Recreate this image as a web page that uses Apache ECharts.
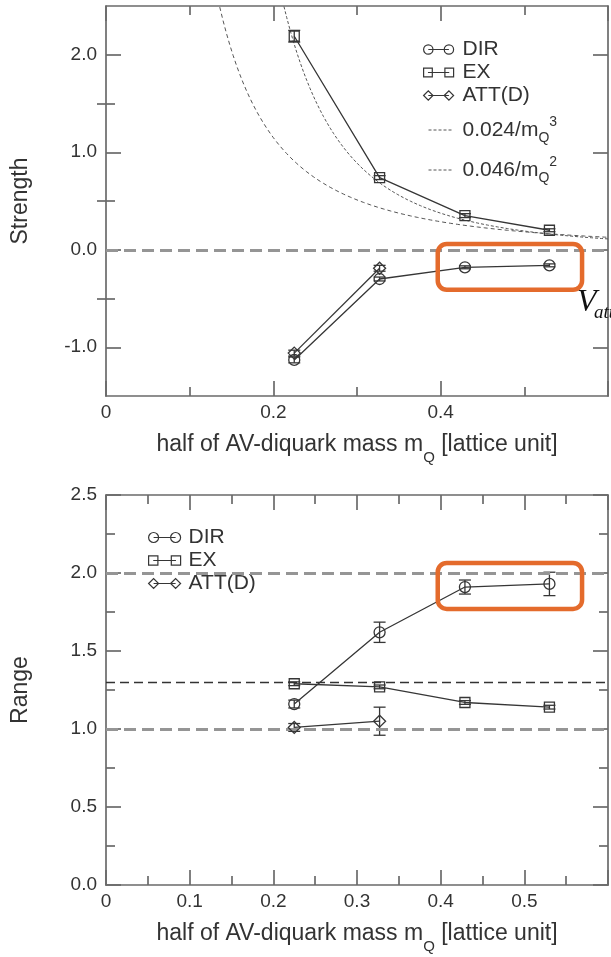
<!DOCTYPE html>
<html>
<head>
<meta charset="utf-8">
<script src="https://cdn.jsdelivr.net/npm/echarts@6/dist/echarts.min.js"></script>
<style>
html,body{margin:0;padding:0;background:#fff;}
#c{width:611px;height:957px;}
</style>
</head>
<body>
<div id="c"></div>
<script>
// ---------- data ----------
const mQ = [0.225, 0.327, 0.429, 0.530];

const strengthDIR = [-1.13, -0.30, -0.18, -0.16];
const strengthDIRErr = [0.03, 0.02, 0.015, 0.015];
const strengthEX = [2.19, 0.74, 0.35, 0.20];
const strengthEXErr = [0.06, 0.02, 0.02, 0.015];
const strengthATT = [-1.06, -0.19];
const strengthATTErr = [0.03, 0.03];

const rangeDIR = [1.16, 1.62, 1.91, 1.93];
const rangeDIRErr = [0.025, 0.065, 0.045, 0.075];
const rangeEX = [1.29, 1.27, 1.17, 1.14];
const rangeEXErr = [0.012, 0.012, 0.012, 0.012];
const rangeATT = [1.01, 1.05];
const rangeATTErr = [0.025, 0.09];

const fitCoeff = [0.024, 0.046];
const fitPower = [3, 2];
const fitLabels = ['0.024/m{sub|Q}{sup|3}', '0.046/m{sub|Q}{sup|2}'];

const strengthRefLines = [0.0];
const rangeRefLines = [2.0, 1.3, 1.0];

const strengthYLabels = [-1, 0, 1, 2];
const strengthYMinor = [-0.5, 0.5, 1.5];

const boxStrength = [[0.3965, 0.06], [0.569, -0.41]];
const boxRange = [[0.3965, 2.064], [0.569, 1.77]];

// ---------- styles ----------
const FONT = 'Liberation Sans, Arial, Helvetica, sans-serif';
const SERIF = 'Liberation Serif, Times New Roman, serif';
const TXT = '#333333';
const FRAME = '#6a6a6a';
const LINE = '#363636';

const pathDIR = 'path://M0,5 A5,5 0 1,1 10,5 A5,5 0 1,1 0,5 Z M5,5 L27,5 M22,5 A5,5 0 1,1 32,5 A5,5 0 1,1 22,5 Z';
const pathEX = 'path://M0.5,0.5 H9.5 V9.5 H0.5 Z M5,5 H27 M22.5,0.5 H31.5 V9.5 H22.5 Z';
const pathATT = 'path://M0,5 L5,0 L10,5 L5,10 Z M5,5 H27 M22,5 L27,0 L32,5 L27,10 Z';
const pathFit = 'path://M0,0 M0,5 L24,5 M0,10';

function pairs(xs, ys) { return ys.map((y, i) => [xs[i], y]); }

function curve(c, p) {
  const out = [];
  for (let x = 0.12; x <= 0.6001; x += 0.004) out.push([x, c / Math.pow(x, p)]);
  return out;
}

function errSeries(xs, ys, es, xi, yi) {
  return {
    type: 'custom', xAxisIndex: xi, yAxisIndex: yi, silent: true, z: 4,
    data: ys.map((y, i) => [xs[i], y - es[i], y + es[i]]),
    encode: { x: 0, y: [1, 2] },
    renderItem: function (params, api) {
      const x = api.value(0);
      const lo = api.coord([x, api.value(1)]);
      const hi = api.coord([x, api.value(2)]);
      const w = 6;
      const st = { stroke: LINE, lineWidth: 1.3 };
      return {
        type: 'group', children: [
          { type: 'line', shape: { x1: lo[0], y1: lo[1], x2: hi[0], y2: hi[1] }, style: st },
          { type: 'line', shape: { x1: lo[0] - w, y1: lo[1], x2: lo[0] + w, y2: lo[1] }, style: st },
          { type: 'line', shape: { x1: hi[0] - w, y1: hi[1], x2: hi[0] + w, y2: hi[1] }, style: st }
        ]
      };
    }
  };
}

function lineSeries(name, data, symbol, size, xi, yi) {
  return {
    type: 'line', name: name, data: data, xAxisIndex: xi, yAxisIndex: yi,
    symbol: symbol, symbolSize: size, showAllSymbol: true, z: 5,
    lineStyle: { color: LINE, width: 1.3 },
    itemStyle: { color: 'rgba(0,0,0,0)', borderColor: LINE, borderWidth: 1.3 },
    emphasis: { disabled: true }, silent: true
  };
}

function refLineSeries(values, styles, xi, yi) {
  return {
    type: 'line', data: [], xAxisIndex: xi, yAxisIndex: yi, silent: true, z: 1,
    markLine: {
      silent: true, symbol: 'none', label: { show: false }, animation: false,
      data: values.map((v, i) => ({ yAxis: v, lineStyle: styles[i] }))
    }
  };
}

const greyDash = { color: '#959595', width: 2.8, type: [12, 6] };
const darkDash = { color: '#333333', width: 1.3, type: [9, 5] };

const labelStyle = { fontFamily: FONT, fontSize: 19, color: TXT };

const nameStyle = {
  fontFamily: FONT, fontSize: 23, color: TXT, lineHeight: 40,
  rich: { sub: { fontFamily: FONT, fontSize: 15, color: TXT, verticalAlign: 'bottom', lineHeight: 10 } }
};

function xAxisDef(grid, pos, interval, showLabels, name) {
  return {
    type: 'value', gridIndex: grid, position: pos, min: 0, max: 0.6, interval: interval,
    axisLine: { show: true, onZero: false, lineStyle: { color: FRAME, width: 1.7 } },
    axisTick: { show: true, inside: true, length: 15, lineStyle: { color: FRAME, width: 1.7 } },
    minorTick: { show: true, splitNumber: 2, length: 9, lineStyle: { color: FRAME, width: 1.7 } },
    splitLine: { show: false },
    axisLabel: Object.assign({ show: showLabels, margin: 7, showMaxLabel: false,
      formatter: v => (v === 0 ? '0' : v.toFixed(1)) }, labelStyle),
    name: name || '', nameLocation: 'middle', nameGap: 29,
    nameTextStyle: nameStyle
  };
}

const xName = 'half of AV-diquark mass m{sub|Q} [lattice unit]';

const option = {
  animation: false,
  backgroundColor: '#fff',
  grid: [
    { left: 106, top: 6, width: 502, height: 390 },
    { left: 106, top: 495, width: 502, height: 390 }
  ],
  xAxis: [
    xAxisDef(0, 'bottom', 0.2, true, xName),
    xAxisDef(0, 'top', 0.2, false),
    xAxisDef(1, 'bottom', 0.1, true, xName),
    xAxisDef(1, 'top', 0.1, false)
  ],
  yAxis: [
    {
      type: 'value', gridIndex: 0, position: 'left', min: -1.5, max: 2.5, interval: 0.5,
      axisLine: { show: true, onZero: false, lineStyle: { color: FRAME, width: 1.7 } },
      axisTick: { show: true, inside: true, length: 15, customValues: strengthYLabels, lineStyle: { color: FRAME, width: 1.7 } },
      axisLabel: Object.assign({ margin: 9, customValues: strengthYLabels, formatter: v => v.toFixed(1) }, labelStyle),
      splitLine: { show: false },
      name: 'Strength', nameLocation: 'middle', nameRotate: 90, nameGap: 74,
      nameTextStyle: { fontFamily: FONT, fontSize: 23, color: TXT }
    },
    {
      type: 'value', gridIndex: 0, position: 'left', min: -1.5, max: 2.5, interval: 0.5,
      axisLine: { show: false },
      axisTick: { show: true, inside: true, length: 9, customValues: strengthYMinor, lineStyle: { color: FRAME, width: 1.7 } },
      axisLabel: { show: false }, splitLine: { show: false }
    },
    {
      type: 'value', gridIndex: 0, position: 'right', min: -1.5, max: 2.5, interval: 0.5,
      axisLine: { show: true, onZero: false, lineStyle: { color: FRAME, width: 1.7 } },
      axisTick: { show: true, inside: true, length: 15, customValues: strengthYLabels, lineStyle: { color: FRAME, width: 1.7 } },
      axisLabel: { show: false }, splitLine: { show: false }
    },
    {
      type: 'value', gridIndex: 0, position: 'right', min: -1.5, max: 2.5, interval: 0.5,
      axisLine: { show: false },
      axisTick: { show: true, inside: true, length: 9, customValues: strengthYMinor, lineStyle: { color: FRAME, width: 1.7 } },
      axisLabel: { show: false }, splitLine: { show: false }
    },
    {
      type: 'value', gridIndex: 1, position: 'left', min: 0, max: 2.5, interval: 0.5,
      axisLine: { show: true, onZero: false, lineStyle: { color: FRAME, width: 1.7 } },
      axisTick: { show: true, inside: true, length: 15, lineStyle: { color: FRAME, width: 1.7 } },
      minorTick: { show: true, splitNumber: 2, length: 9, lineStyle: { color: FRAME, width: 1.7 } },
      axisLabel: Object.assign({ margin: 9, formatter: v => v.toFixed(1) }, labelStyle),
      splitLine: { show: false },
      name: 'Range', nameLocation: 'middle', nameRotate: 90, nameGap: 74,
      nameTextStyle: { fontFamily: FONT, fontSize: 23, color: TXT }
    },
    {
      type: 'value', gridIndex: 1, position: 'right', min: 0, max: 2.5, interval: 0.5,
      axisLine: { show: true, onZero: false, lineStyle: { color: FRAME, width: 1.7 } },
      axisTick: { show: true, inside: true, length: 15, lineStyle: { color: FRAME, width: 1.7 } },
      minorTick: { show: true, splitNumber: 2, length: 9, lineStyle: { color: FRAME, width: 1.7 } },
      axisLabel: { show: false }, splitLine: { show: false }
    }
  ],
  legend: [
    {
      orient: 'vertical', left: 423, top: 39, padding: 0, itemGap: 2,
      itemWidth: 30, itemHeight: 10, selectedMode: false,
      itemStyle: { color: 'rgba(0,0,0,0)', borderColor: LINE, borderWidth: 1.2 },
      textStyle: { fontFamily: FONT, fontSize: 21, color: TXT, padding: [0, 0, 0, 4] },
      data: [{ name: 'DIR', icon: pathDIR }, { name: 'EX', icon: pathEX }, { name: 'ATT(D)', icon: pathATT }]
    },
    {
      orient: 'vertical', left: 428, top: 115, padding: 0, itemGap: 10,
      itemWidth: 24, itemHeight: 10, selectedMode: false,
      itemStyle: { color: 'rgba(0,0,0,0)', borderColor: '#555', borderWidth: 1, borderType: [3, 2] },
      textStyle: {
        fontFamily: FONT, fontSize: 21, color: TXT, lineHeight: 30, padding: [0, 0, 0, 5],
        rich: {
          sub: { fontFamily: FONT, fontSize: 14, color: TXT, verticalAlign: 'bottom', lineHeight: 8 },
          sup: { fontFamily: FONT, fontSize: 14, color: TXT, verticalAlign: 'top', lineHeight: 8 }
        }
      },
      data: fitLabels.map(n => ({ name: n, icon: pathFit }))
    },
    {
      orient: 'vertical', left: 146, top: 527, padding: [0, 4, 0, 2], itemGap: 2,
      itemWidth: 32, itemHeight: 10, selectedMode: false, backgroundColor: '#fff',
      itemStyle: { color: 'rgba(0,0,0,0)', borderColor: LINE, borderWidth: 1.2 },
      textStyle: { fontFamily: FONT, fontSize: 21, color: TXT, padding: [0, 0, 0, 3] },
      data: [{ name: 'DIR', icon: pathDIR }, { name: 'EX', icon: pathEX }, { name: 'ATT(D)', icon: pathATT }]
    }
  ],
  series: [
    refLineSeries(strengthRefLines, [greyDash], 0, 0),
    refLineSeries(rangeRefLines, [greyDash, darkDash, greyDash], 2, 4),

    {
      type: 'line', name: fitLabels[0], data: curve(fitCoeff[0], fitPower[0]), xAxisIndex: 0, yAxisIndex: 0,
      showSymbol: false, symbol: 'none', silent: true, z: 3, clip: true,
      lineStyle: { color: '#555', width: 1, type: [3, 2] }, itemStyle: { color: '#555' }
    },
    {
      type: 'line', name: fitLabels[1], data: curve(fitCoeff[1], fitPower[1]), xAxisIndex: 0, yAxisIndex: 0,
      showSymbol: false, symbol: 'none', silent: true, z: 3, clip: true,
      lineStyle: { color: '#555', width: 1, type: [4, 3] }, itemStyle: { color: '#555' }
    },

    lineSeries('DIR', pairs(mQ, strengthDIR), 'circle', 11, 0, 0),
    lineSeries('EX', pairs(mQ, strengthEX), 'rect', 10, 0, 0),
    lineSeries('ATT(D)', pairs(mQ, strengthATT), 'diamond', 12, 0, 0),
    errSeries(mQ, strengthDIR, strengthDIRErr, 0, 0),
    errSeries(mQ, strengthEX, strengthEXErr, 0, 0),
    errSeries(mQ, strengthATT, strengthATTErr, 0, 0),

    lineSeries('DIR', pairs(mQ, rangeDIR), 'circle', 11, 2, 4),
    lineSeries('EX', pairs(mQ, rangeEX), 'rect', 10, 2, 4),
    lineSeries('ATT(D)', pairs(mQ, rangeATT), 'diamond', 12, 2, 4),
    errSeries(mQ, rangeDIR, rangeDIRErr, 2, 4),
    errSeries(mQ, rangeEX, rangeEXErr, 2, 4),
    errSeries(mQ, rangeATT, rangeATTErr, 2, 4)
  ]
};

const chart = echarts.init(document.getElementById('c'), null, { renderer: 'canvas' });
chart.setOption(option);

function boxGraphic(box, gridIndex) {
  const p1 = chart.convertToPixel({ gridIndex: gridIndex }, box[0]);
  const p2 = chart.convertToPixel({ gridIndex: gridIndex }, box[1]);
  return {
    type: 'rect', z: 100, silent: true,
    shape: { x: Math.min(p1[0], p2[0]), y: Math.min(p1[1], p2[1]),
             width: Math.abs(p2[0] - p1[0]), height: Math.abs(p2[1] - p1[1]), r: 9 },
    style: { fill: 'none', stroke: '#E46B2C', lineWidth: 4.5 }
  };
}

chart.setOption({
  graphic: [
    boxGraphic(boxStrength, 0),
    boxGraphic(boxRange, 1),
    {
      type: 'text', left: 577, top: 287, z: 100, silent: true,
      style: { text: 'V', font: 'italic 32px ' + SERIF, fill: '#111' }
    },
    {
      type: 'text', left: 594, top: 303, z: 100, silent: true,
      style: { text: 'att', font: 'italic 19px ' + SERIF, fill: '#111' }
    }
  ]
});
</script>
</body>
</html>
